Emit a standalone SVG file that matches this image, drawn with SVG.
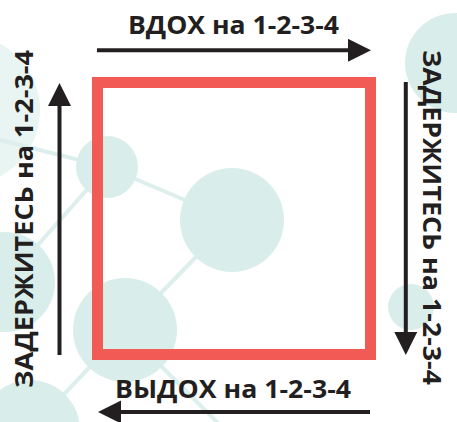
<svg xmlns="http://www.w3.org/2000/svg" width="457" height="422" viewBox="0 0 457 422">
  <defs>
    <style>
      .bg { fill: #d9eeeb; }
      .bgl { fill: #e8f5f3; }
      .bgline { stroke: #dcefec; stroke-width: 4; fill: none; }
      .lbl { font-family: "Open Sans", "Noto Sans", "DejaVu Sans", sans-serif; font-weight: 700; font-size: 24.5px; fill: #231f20; }
      .arrow { stroke: #231f20; stroke-width: 4; fill: none; marker-end: url(#head); }
    </style>
    <marker id="head" markerUnits="userSpaceOnUse" markerWidth="23" markerHeight="24" refX="0" refY="11.5" orient="auto">
      <path d="M0,0 L23,11.5 L0,23 z" fill="#231f20"/>
    </marker>
  </defs>

  <rect width="457" height="422" fill="#ffffff"/>

  <g id="background">
    <circle class="bgl" cx="-35" cy="110" r="75"/>
    <line class="bgline" x1="107" y1="167" x2="0" y2="140"/>
    <line class="bgline" x1="107" y1="167" x2="5" y2="282"/>
    <line class="bgline" x1="107" y1="167" x2="232" y2="220"/>
    <line class="bgline" x1="232" y1="220" x2="125" y2="330"/>
    <line class="bgline" x1="125" y1="330" x2="225" y2="430"/>
    <line class="bgline" x1="125" y1="330" x2="30" y2="430"/>
    <circle class="bg" cx="107" cy="167" r="31"/>
    <circle class="bg" cx="232" cy="220" r="52"/>
    <circle class="bg" cx="125" cy="330" r="52"/>
    <circle class="bg" cx="5" cy="282" r="50"/>
    <circle class="bg" cx="30" cy="430" r="50"/>
    <circle class="bg" cx="455" cy="63" r="50"/>
    <circle class="bg" cx="411" cy="307" r="23"/>
  </g>

  <g id="square">
    <rect x="97.5" y="82.5" width="273" height="272" fill="none" stroke="#f15a55" stroke-width="11"/>
  </g>

  <g id="connectors">
    <line class="arrow" x1="97" y1="50.3" x2="348" y2="50.3"/>
    <line class="arrow" x1="405.8" y1="82" x2="405.8" y2="332"/>
    <line class="arrow" x1="370" y1="412" x2="121" y2="412"/>
    <line class="arrow" x1="59.5" y1="355" x2="59.5" y2="106"/>
  </g>

  <g id="label-top">
    <text class="lbl" x="128" y="34.3" textLength="211" lengthAdjust="spacingAndGlyphs">ВДОХ на 1-2-3-4</text>
  </g>
  <g id="label-right">
    <text class="lbl" transform="translate(423,50) rotate(90)" x="0" y="0" textLength="335" lengthAdjust="spacingAndGlyphs">ЗАДЕРЖИТЕСЬ на 1-2-3-4</text>
  </g>
  <g id="label-bottom">
    <text class="lbl" x="115" y="397.5" textLength="236" lengthAdjust="spacingAndGlyphs">ВЫДОХ на 1-2-3-4</text>
  </g>
  <g id="label-left">
    <text class="lbl" transform="translate(33,388) rotate(-90)" x="0" y="0" textLength="338" lengthAdjust="spacingAndGlyphs">ЗАДЕРЖИТЕСЬ на 1-2-3-4</text>
  </g>
</svg>
